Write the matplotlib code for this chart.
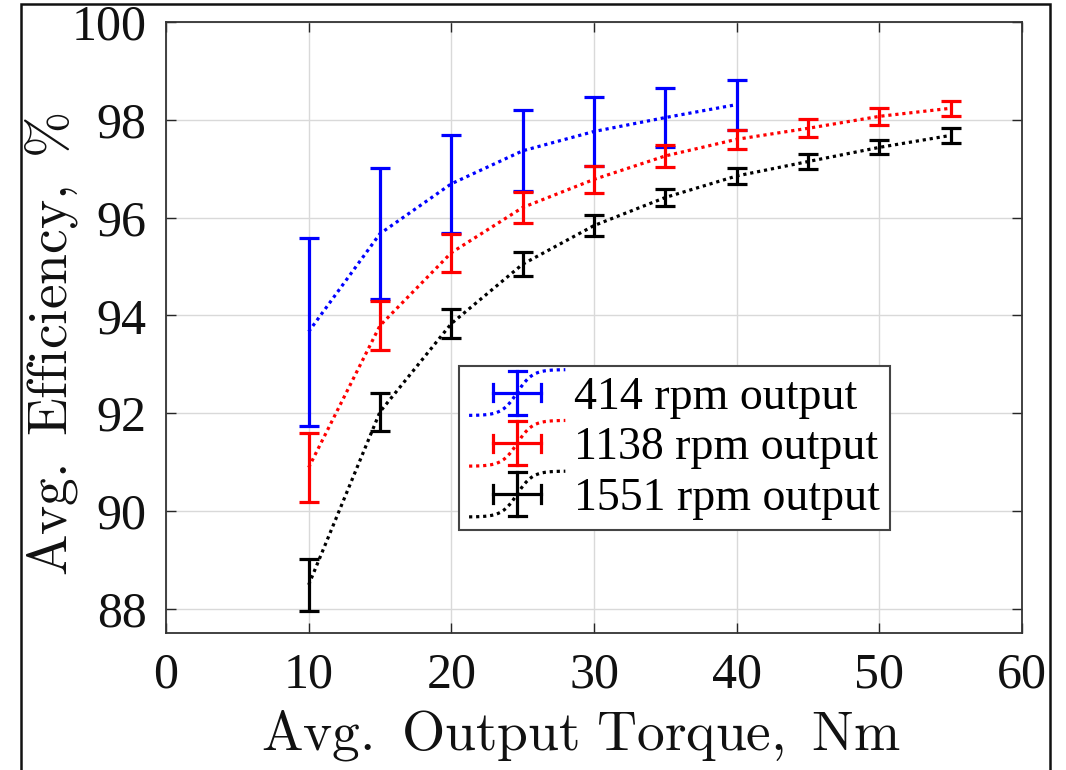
import numpy as np
import matplotlib
matplotlib.use("Agg")
import matplotlib.pyplot as plt
from matplotlib.legend_handler import HandlerBase
from matplotlib.lines import Line2D
from matplotlib.patches import Rectangle

# ---- data ----
x_414 = [10, 15, 20, 25, 30, 35, 40]
lo_414 = [91.74, 94.33, 95.69, 96.54, 97.06, 97.44, 97.80]
hi_414 = [95.59, 97.01, 97.69, 98.19, 98.46, 98.65, 98.82]

x_1138 = [10, 15, 20, 25, 30, 35, 40, 45, 50, 55]
lo_1138 = [90.18, 93.29, 94.89, 95.89, 96.50, 97.03, 97.40, 97.64, 97.90, 98.08]
hi_1138 = [91.59, 94.29, 95.67, 96.52, 97.06, 97.49, 97.80, 98.01, 98.24, 98.39]

x_1551 = [10, 15, 20, 25, 30, 35, 40, 45, 50, 55]
lo_1551 = [87.95, 91.64, 93.54, 94.80, 95.62, 96.23, 96.69, 96.99, 97.29, 97.52]
hi_1551 = [89.02, 92.41, 94.12, 95.29, 96.05, 96.59, 97.01, 97.30, 97.58, 97.84]

labels = ["414 rpm output", "1138 rpm output", "1551 rpm output"]
colors = ["#0000ff", "#ff0000", "#000000"]
xticks = [0, 10, 20, 30, 40, 50, 60]
yticks = [88, 90, 92, 94, 96, 98, 100]

plt.rcParams['font.family'] = ['Liberation Serif', 'DejaVu Serif']
plt.rcParams['mathtext.fontset'] = 'cm'

W, H = 1066, 770
fig = plt.figure(figsize=(W / 100, H / 100), dpi=100)
ax = fig.add_axes([166 / W, 1 - 633 / H, (1022 - 166) / W, (633 - 22) / H])

series = [(x_414, lo_414, hi_414), (x_1138, lo_1138, hi_1138), (x_1551, lo_1551, hi_1551)]
for (xs, lo, hi), c in zip(series, colors):
    xs = np.array(xs, float)
    lo = np.array(lo)
    hi = np.array(hi)
    mid = (lo + hi) / 2
    ax.plot(xs, mid, linestyle=(0, (1, 1.2)), color=c, lw=2.3, zorder=3)
    ax.errorbar(xs, mid, yerr=[mid - lo, hi - mid], fmt='none', ecolor=c,
                elinewidth=2.3, capsize=7.5, capthick=2.3, zorder=4)

ax.set_xlim(0, 60)
ax.set_ylim(87.5, 100)
ax.set_xticks(xticks)
ax.set_yticks(yticks)
ax.grid(True, color='#d9d9d9', lw=1.0)
ax.set_axisbelow(True)
ax.tick_params(direction='in', length=7, width=1.0, top=True, right=True,
               labelsize=36, colors='#262626', labelcolor='#111111')
ax.tick_params(axis='x', pad=14)
ax.tick_params(axis='y', pad=14)
for s in ax.spines.values():
    s.set_color('#333333')
    s.set_linewidth(1.3)

ax.set_xlabel(r"$\mathrm{Avg.\ Output\ Torque,\ Nm}$", fontsize=40, color='#111111', va='top')
ax.xaxis.set_label_coords(0.485, -0.123)
ax.set_ylabel(r"$\mathrm{Avg.\ Efficiency,\ \%}$", fontsize=40, color='#111111')
ax.yaxis.set_label_coords(-0.100, 0.472)


class HandlerErrDotted(HandlerBase):
    def create_artists(self, legend, orig_handle, xdescent, ydescent, width,
                       height, fontsize, trans):
        c = orig_handle.get_color()
        xs = np.linspace(0, width, 60)
        cy = height / 2 - ydescent
        amp = 0.50 * fontsize
        ys = cy + amp * np.tanh((xs - width / 2) / (width * 0.16))
        line = Line2D(xs - xdescent, ys, color=c, lw=2.3, linestyle=(0, (1, 1.2)))
        cx = width / 2 - xdescent
        hw = 0.25 * width
        vh = 0.48 * fontsize
        cap = 0.19 * fontsize
        arts = [line,
                Line2D([cx - hw, cx + hw], [cy, cy], color=c, lw=2.3),
                Line2D([cx, cx], [cy - vh, cy + vh], color=c, lw=2.3),
                Line2D([cx - hw, cx - hw], [cy - cap, cy + cap], color=c, lw=2.3),
                Line2D([cx + hw, cx + hw], [cy - cap, cy + cap], color=c, lw=2.3),
                Line2D([cx - cap, cx + cap], [cy - vh, cy - vh], color=c, lw=2.3),
                Line2D([cx - cap, cx + cap], [cy + vh, cy + vh], color=c, lw=2.3)]
        for a in arts:
            a.set_transform(trans)
        return arts


handles = [Line2D([], [], color=c) for c in colors]
leg = fig.legend(handles, labels, loc='upper left',
                 bbox_to_anchor=(459 / W, 1 - 366 / H), bbox_transform=fig.transFigure,
                 borderaxespad=0, fontsize=33, frameon=True, fancybox=False,
                 edgecolor='#444444', framealpha=1, handlelength=2.1,
                 handletextpad=0.2, borderpad=0.22, labelspacing=0.18,
                 handler_map={Line2D: HandlerErrDotted()})
leg.get_frame().set_linewidth(1.5)

# outer figure border
fig.patches.append(Rectangle((21 / W, -0.02), (1050 - 21) / W, 1 - 4 / H + 0.02,
                             transform=fig.transFigure, fill=False,
                             edgecolor='#111111', lw=1.8))

fig.savefig("out.png", dpi=100)
